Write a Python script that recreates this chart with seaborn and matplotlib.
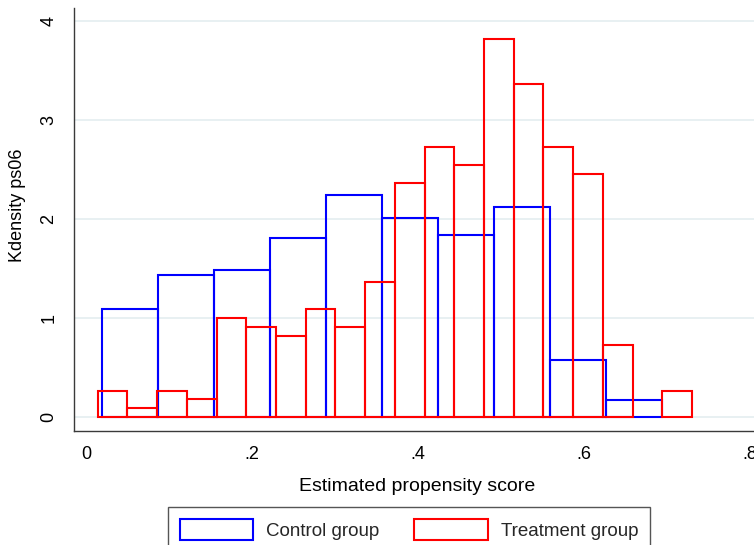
import numpy as np
import pandas as pd
import matplotlib
matplotlib.use("Agg")
import matplotlib.pyplot as plt
from matplotlib.patches import Patch
import seaborn as sns

# ---- data (density heights per bin) ----
control_label = "Control group"
control_bin_start = 0.0193
control_bin_width = 0.0675
control_density = [1.09, 1.44, 1.49, 1.81, 2.24, 2.01, 1.84, 2.12, 0.58, 0.17]

treat_label = "Treatment group"
treat_bin_start = 0.0141
treat_bin_width = 0.0358
treat_density = [0.27, 0.09, 0.27, 0.18, 1.00, 0.91, 0.82, 1.09, 0.91, 1.36,
                 2.36, 2.73, 2.54, 3.82, 3.36, 2.73, 2.45, 0.73, 0.00, 0.27]

x_ticks = [0, 0.2, 0.4, 0.6, 0.8]
x_ticklabels = ["0", ".2", ".4", ".6", ".8"]
y_ticks = [0, 1, 2, 3, 4]
y_ticklabels = ["0", "1", "2", "3", "4"]
x_title = "Estimated propensity score"
y_title = "Kdensity ps06"


def edges(start, width, n):
    return [float(start + width * i) for i in range(n + 1)]


ctrl_edges = edges(control_bin_start, control_bin_width, len(control_density))
ctrl_centers = [(a + b) / 2 for a, b in zip(ctrl_edges[:-1], ctrl_edges[1:])]
trt_edges = edges(treat_bin_start, treat_bin_width, len(treat_density))
trt_centers = [(a + b) / 2 for a, b in zip(trt_edges[:-1], trt_edges[1:])]

ctrl_df = pd.DataFrame({"score": ctrl_centers, "density": control_density})
trt_df = pd.DataFrame({"score": trt_centers, "density": treat_density})

sns.set_theme(style="white")
plt.rcParams["font.family"] = ["Liberation Sans", "DejaVu Sans"]

W, H = 754, 545
fig = plt.figure(figsize=(W / 100, H / 100), dpi=100)
ax_l, ax_r, ax_t, ax_b = 74, 754, 8, 431
ax = fig.add_axes([ax_l / W, 1 - ax_b / H, (ax_r - ax_l) / W, (ax_b - ax_t) / H])

for y in y_ticks:
    ax.axhline(y, color="#e4eef0", lw=1.2, zorder=0)

BLUE = "#0000ff"
RED = "#ff0000"
sns.histplot(data=ctrl_df, x="score", weights="density", bins=ctrl_edges,
             stat="count", fill=False, element="bars", color=BLUE,
             linewidth=1.5, ax=ax, zorder=2)
sns.histplot(data=trt_df, x="score", weights="density", bins=trt_edges,
             stat="count", fill=False, element="bars", color=RED,
             linewidth=1.5, ax=ax, zorder=3)
for p in ax.patches:
    if p.get_height() == 0:
        p.set_visible(False)

ax.set_xlim(-0.0145, 0.8048)
ax.set_ylim(-0.138, 4.128)

for s in ["top", "right"]:
    ax.spines[s].set_visible(False)
for s in ["left", "bottom"]:
    ax.spines[s].set_color("#3a3a3a")
    ax.spines[s].set_linewidth(1.0)

ax.set_xticks(x_ticks)
ax.set_xticklabels(x_ticklabels)
ax.set_yticks(y_ticks)
ax.set_yticklabels(y_ticklabels, rotation=90, va="center")
ax.tick_params(axis="both", direction="out", length=5, width=1.0,
               color="#3a3a3a", labelsize=13, labelcolor="black")
ax.tick_params(axis="x", pad=6)
ax.tick_params(axis="y", pad=7)

ax.set_xlabel(x_title, fontsize=14, color="black")
ax.set_ylabel(y_title, fontsize=13, color="black")
ax.xaxis.set_label_coords((417.5 - ax_l) / (ax_r - ax_l), (ax_b - 491) / (ax_b - ax_t))
ax.xaxis.label.set_va("baseline")
ax.yaxis.set_label_coords((17.5 - ax_l) / (ax_r - ax_l), (ax_b - 205) / (ax_b - ax_t))
ax.yaxis.label.set_va("center")

handles = [Patch(facecolor="none", edgecolor=BLUE, linewidth=1.5),
           Patch(facecolor="none", edgecolor=RED, linewidth=1.5)]
leg = fig.legend(handles, [control_label, treat_label], loc="upper left",
                 bbox_to_anchor=(168 / W, 1 - 507 / H), borderaxespad=0,
                 ncol=2, frameon=True, fancybox=False, edgecolor="#555555",
                 framealpha=1, handlelength=3.9, handleheight=1.35,
                 handletextpad=0.7, columnspacing=1.85, borderpad=0.65,
                 fontsize=13.5)
leg.get_frame().set_linewidth(1.0)

fig.savefig("out.png", dpi=100)
